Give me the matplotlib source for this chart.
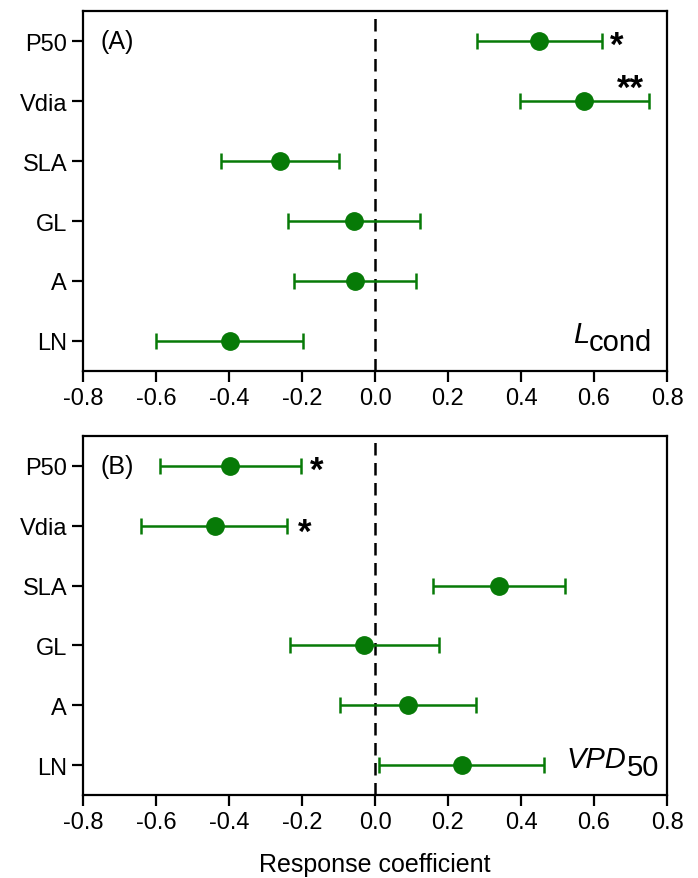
import matplotlib.pyplot as plt

plt.rcParams["font.family"] = ["Liberation Sans", "DejaVu Sans"]

# ===== データ
traits = ["P50", "Vdia", "SLA", "GL", "A", "LN"]

# (A) Lcond
lcond_coef = [0.449, 0.573, -0.261, -0.057, -0.056, -0.398]
lcond_low = [0.280, 0.398, -0.422, -0.237, -0.222, -0.599]
lcond_high = [0.622, 0.750, -0.099, 0.123, 0.112, -0.196]
lcond_sig = ["*", "**", "", "", "", ""]

# (B) VPD50
vpd_coef = [-0.396, -0.439, 0.341, -0.029, 0.091, 0.238]
vpd_low = [-0.590, -0.640, 0.160, -0.232, -0.096, 0.011]
vpd_high = [-0.202, -0.240, 0.521, 0.176, 0.278, 0.463]
vpd_sig = ["*", "*", "", "", "", ""]

x_ticks = [-0.8, -0.6, -0.4, -0.2, 0.0, 0.2, 0.4, 0.6, 0.8]

GREEN = "#077a07"
FS = 17
STAR_FS = 25


def draw_panel(ax, coef, low, high, sig, tag, name, sub, star_pos, sub_x, name_dy):
    """パネル1枚を描画"""
    ypos = list(range(len(traits)))
    xerr = [[c - l for c, l in zip(coef, low)], [h - c for c, h in zip(coef, high)]]
    ax.errorbar(coef, ypos, xerr=xerr, fmt="o", color=GREEN, ecolor=GREEN,
                markersize=12.5, elinewidth=1.8, capsize=6, capthick=1.8, zorder=3)
    ax.axvline(0, color="black", lw=1.8, dashes=(5, 3), zorder=1)

    # 有意性の記号 (アスタリスクの中心を行の中心に合わせる)
    for i, s in enumerate(sig):
        if s:
            x0, dy = star_pos[i]
            ax.annotate(s, xy=(x0, i), xytext=(0, -0.58 * STAR_FS + 4.5 + dy),
                        textcoords="offset points", fontsize=STAR_FS,
                        fontweight="bold", ha="left", va="baseline")

    ax.set_yticks(ypos)
    ax.set_yticklabels(traits)
    ax.set_ylim(len(traits) - 0.5, -0.5)
    ax.set_xlim(-0.8, 0.8)
    ax.set_xticks(x_ticks)
    ax.set_xticklabels([f"{v:.1f}" for v in x_ticks])
    ax.tick_params(labelsize=FS, width=1.6, length=8, direction="out")
    for sp in ax.spines.values():
        sp.set_linewidth(1.6)

    ax.text(0.03, 1 - 0.5 / 6, tag, transform=ax.transAxes, fontsize=18,
            ha="left", va="center")

    # 変数名 (斜体 + 添字)
    t_sub = ax.text(sub_x, 0.057, sub, transform=ax.transAxes, fontsize=21,
                    ha="right", va="baseline")
    ax.annotate(name, xy=(0, 0), xycoords=t_sub, xytext=(0, name_dy),
                textcoords="offset points", fontsize=21, style="italic",
                ha="right", va="baseline")


def main():
    """メイン関数"""
    fig = plt.figure(figsize=(6.98, 8.79), dpi=100)
    ax1 = fig.add_axes([83 / 698, 1 - 372 / 879, 584 / 698, 360 / 879])
    ax2 = fig.add_axes([83 / 698, 1 - 796 / 879, 584 / 698, 359 / 879])

    draw_panel(ax1, lcond_coef, lcond_low, lcond_high, lcond_sig, "(A)", "L", "cond",
               {0: (0.644, 0), 1: (0.663, 12.5)}, 0.975, 10.4)
    draw_panel(ax2, vpd_coef, vpd_low, vpd_high, vpd_sig, "(B)", "VPD", "50",
               {0: (-0.178, 0), 1: (-0.212, -1.5)}, 0.986, 9.4)

    ax2.set_xlabel("Response coefficient", fontsize=18, labelpad=14)

    fig.savefig("out.png", dpi=100)


if __name__ == "__main__":
    main()
